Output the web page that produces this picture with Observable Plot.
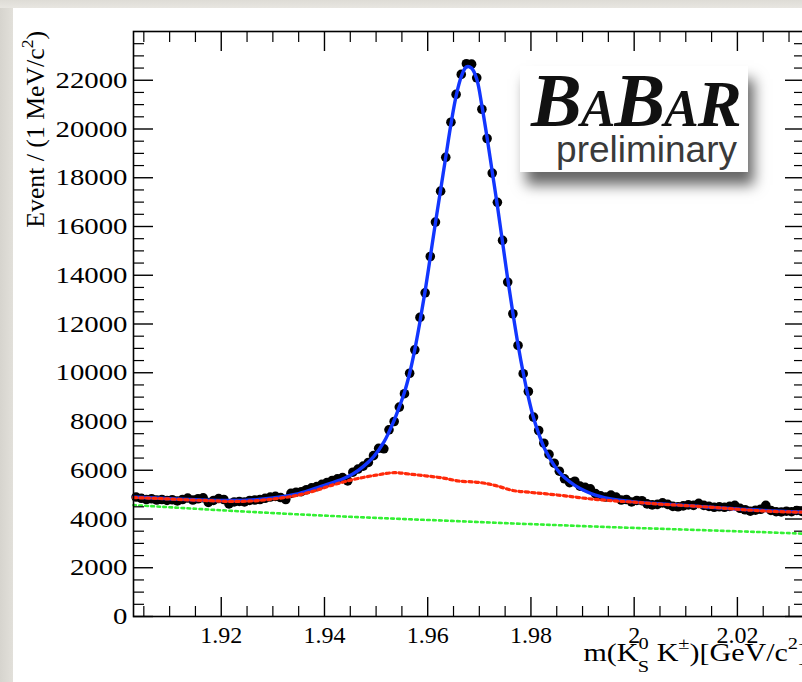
<!DOCTYPE html>
<html>
<head>
<meta charset="utf-8">
<script src="https://cdn.jsdelivr.net/npm/d3@7"></script>
<script src="https://cdn.jsdelivr.net/npm/@observablehq/plot@0.6"></script>
<style>
  html, body { margin: 0; padding: 0; background: #ffffff; overflow: hidden; width: 802px; height: 682px; }
  #wrap { position: relative; width: 802px; height: 682px; overflow: hidden; }
  #edgeL { position: absolute; left: 0; top: 0; width: 13px; height: 682px; background: linear-gradient(to right, #d6d4ce, #e2e0da); }
  #edgeT { position: absolute; left: 0; top: 0; width: 802px; height: 8px; background: linear-gradient(#dedcd6, #e8e6e1); }
  #chart { position: absolute; left: 0; top: 0; }
  #logo { position: absolute; left: 520px; top: 66px; width: 228px; height: 106px; background: #fff;
          box-shadow: 6px 13px 13px rgba(0,0,0,0.6); }
  #babar { position: absolute; left: 11px; top: -9px; font-family: "Liberation Serif", serif; font-weight: bold; font-style: italic; color: #111; white-space: nowrap; letter-spacing: -1px; }
  #prelim { position: absolute; right: 11px; top: 63px; font-family: "Liberation Sans", sans-serif; font-size: 37px; color: #3a3a3a; white-space: nowrap; }
</style>
</head>
<body>
<div id="wrap">
  <div id="edgeL"></div>
  <div id="edgeT"></div>
  <div id="chart"></div>
  <div id="logo">
    <div id="babar"><span style="font-size:76px">B</span><span style="font-size:52px">A</span><span style="font-size:76px">B</span><span style="font-size:52px">A</span><span style="font-size:66px">R</span></div>
    <div id="prelim">preliminary</div>
  </div>
</div>
<script>
// ---------- data ----------
// histogram: 1 MeV bins starting at 1.903 GeV/c^2
const binLow = 1.903;
const binWidth = 0.001;
const counts = [
  4900, 4850, 4800, 4830, 4780, 4800, 4760, 4790, 4740, 4800,
  4860, 4780, 4830, 4870, 4680, 4760, 4840, 4800, 4620, 4700,
  4720, 4700, 4760, 4780, 4800, 4850, 4900, 4930, 4880, 4800,
  5050, 5100, 5120, 5200, 5280, 5330, 5420, 5500, 5580, 5650,
  5700, 5560, 5920, 6050, 6170, 6320, 6600, 6900, 6880, 7660,
  8000, 8590, 9140, 9980, 10940, 12270, 13280, 14770, 16180, 17450,
  18840, 20280, 21420, 22240, 22680, 22660, 22100, 20810, 19610, 18190,
  16990, 15430, 13720, 12420, 11120, 9960, 9230, 8180, 7630, 7110,
  6650, 6290, 5960, 5650, 5490, 5550, 5350, 5300, 5240, 5040,
  4950, 4900, 4980, 4900, 4780, 4800, 4700, 4760, 4750, 4620,
  4580, 4600, 4660, 4600, 4520, 4500, 4540, 4580, 4560, 4640,
  4560, 4520, 4480, 4500, 4480, 4520, 4560, 4440, 4380, 4320,
  4360, 4400, 4560, 4350, 4300, 4290, 4320, 4300, 4350, 4310
];

// total fit (blue)
const fitMass = [1.903, 1.910, 1.915, 1.920, 1.925, 1.930, 1.935, 1.9395, 1.9435, 1.9455, 1.9475, 1.9495, 1.9515, 1.9535, 1.9545,
  1.9555, 1.9565, 1.9575, 1.9585, 1.9595, 1.9605, 1.9615, 1.9625, 1.9635, 1.9645, 1.9655, 1.9665, 1.9675, 1.9685, 1.9695,
  1.9705, 1.9715, 1.9725, 1.9735, 1.9745, 1.9755, 1.9765, 1.9775, 1.9785, 1.9795, 1.9805, 1.9815, 1.9825, 1.9835, 1.9845,
  1.9855, 1.9865, 1.9885, 1.9905, 1.9925, 1.9955, 2.0005, 2.0105, 2.0205, 2.033];
const fitVal = [4900, 4830, 4790, 4760, 4770, 4860, 5040, 5350, 5640, 5850, 6150, 6550, 7150, 8050, 8600,
  9200, 9980, 10950, 12100, 13350, 14750, 16150, 17500, 18850, 20200, 21350, 22150, 22550, 22500, 22050,
  20950, 19650, 18250, 16850, 15350, 13850, 12450, 11150, 10000, 9000, 8150, 7500, 6950, 6550, 6200,
  5920, 5700, 5380, 5150, 4980, 4820, 4690, 4550, 4400, 4285];

// background incl. peaking component (red dashed)
const bkgMass = [1.903, 1.908, 1.913, 1.918, 1.922, 1.926, 1.930, 1.934, 1.938, 1.942, 1.946, 1.950, 1.9535, 1.957, 1.960,
  1.963, 1.966, 1.970, 1.973, 1.9765, 1.980, 1.983, 1.987, 1.9913, 1.995, 2.000, 2.005, 2.010, 2.015, 2.020, 2.025, 2.030, 2.033];
const bkgVal = [4880, 4840, 4790, 4750, 4720, 4740, 4820, 4940, 5150, 5420, 5640, 5800, 5900, 5830, 5760,
  5680, 5560, 5500, 5380, 5170, 5090, 5030, 4940, 4830, 4760, 4690, 4610, 4550, 4480, 4400, 4330, 4290, 4280];

// combinatorial background (green dotted)
const combMass = [1.903, 1.915, 1.925, 1.935, 1.945, 1.955, 1.965, 1.975, 1.985, 1.995, 2.005, 2.015, 2.025, 2.033];
const combVal = [4570, 4420, 4300, 4190, 4090, 4000, 3920, 3830, 3750, 3670, 3600, 3530, 3460, 3395];

// axis ticks
const xMajorTicks = [1.92, 1.94, 1.96, 1.98, 2.00, 2.02];
const xMinorTicks = [1.905, 1.91, 1.915, 1.925, 1.93, 1.935, 1.945, 1.95, 1.955, 1.965, 1.97, 1.975, 1.985, 1.99, 1.995, 2.005, 2.01, 2.015, 2.025, 2.03];
const xTickLabels = ["1.92", "1.94", "1.96", "1.98", "2", "2.02"];
const yMajorTicks = [0, 2000, 4000, 6000, 8000, 10000, 12000, 14000, 16000, 18000, 20000, 22000];
const yMinorTicks = [500, 1000, 1500, 2500, 3000, 3500, 4500, 5000, 5500, 6500, 7000, 7500, 8500, 9000, 9500,
  10500, 11000, 11500, 12500, 13000, 13500, 14500, 15000, 15500, 16500, 17000, 17500, 18500, 19000, 19500,
  20500, 21000, 21500, 22500, 23000, 23500];

// ---------- build tables ----------
const hist = counts.map((c, i) => ({m: binLow + (i + 0.5) * binWidth, n: c}));
const fit = fitMass.map((m, i) => ({m, n: fitVal[i]}));
const bkg = bkgMass.map((m, i) => ({m, n: bkgVal[i]}));
const comb = combMass.map((m, i) => ({m, n: combVal[i]}));
const xLab = xMajorTicks.map((v, i) => ({v, t: xTickLabels[i]}));

const font = "Liberation Serif";
const tick = (k, anchor, ticks, size, sw) =>
  (k === "x" ? Plot.axisX : Plot.axisY)(ticks, {anchor, tickSize: -size, fill: "none", stroke: "black", strokeWidth: sw, label: null});

const plot = Plot.plot({
  width: 810,
  height: 682,
  marginLeft: 133,
  marginRight: 6,
  marginTop: 31,
  marginBottom: 66,
  x: {domain: [1.903, 2.033]},
  y: {domain: [0, 24000]},
  style: {background: "transparent", fontFamily: font, overflow: "visible", maxWidth: "none"},
  marks: [
    Plot.dot(hist, {x: "m", y: "n", r: 4.8, fill: "black", stroke: "none"}),
    Plot.line(fit, {x: "m", y: "n", stroke: "#1236ff", strokeWidth: 3.4, curve: "catmull-rom"}),
    Plot.line(bkg, {x: "m", y: "n", stroke: "#ff2a0a", strokeWidth: 3.2, strokeDasharray: "3.2,3.2", curve: "catmull-rom"}),
    Plot.line(comb, {x: "m", y: "n", stroke: "#33f033", strokeWidth: 2.6, strokeDasharray: "2.6,3.4", curve: "catmull-rom"}),
    Plot.frame({stroke: "black", strokeWidth: 1.6}),
    tick("x", "bottom", xMajorTicks, 19, 1.4),
    tick("x", "bottom", xMinorTicks, 10, 1.2),
    tick("x", "top", xMajorTicks, 19, 1.4),
    tick("x", "top", xMinorTicks, 10, 1.2),
    tick("y", "left", yMajorTicks, 20, 1.4),
    tick("y", "left", yMinorTicks, 11, 1.2),
    tick("y", "right", yMajorTicks, 20, 1.4),
    tick("y", "right", yMinorTicks, 11, 1.2),
    Plot.text(xLab, {x: "v", text: "t", frameAnchor: "bottom", dy: 26, fontSize: 24, fill: "black", fontFamily: font}),
    Plot.text(yMajorTicks, {y: d => d, text: d => String(d), frameAnchor: "left", dx: -6, textAnchor: "end", fontSize: 24, fill: "black", fontFamily: font})
  ]
});
document.getElementById("chart").appendChild(plot);

// ---------- ROOT-like wide y tick labels: stretch horizontally about their right end ----------
const svg = d3.select(plot);
const textGroups = svg.selectAll('g[aria-label="text"]').nodes();
d3.select(textGroups[textGroups.length - 1]).selectAll("text").each(function () {
  const bb = this.getBBox();
  const ax = bb.x + bb.width;
  const prev = this.getAttribute("transform") || "";
  this.setAttribute("transform", `${prev} translate(${ax},0) scale(1.2,1) translate(${-ax},0)`);
});

// ---------- axis titles (ROOT style) ----------
const yt = svg.append("text")
  .attr("transform", "translate(44,31) rotate(-90) scale(1.03,1)")
  .attr("text-anchor", "end")
  .style("font-family", font).style("font-size", "25px").attr("fill", "black");
yt.append("tspan").text("Event / (1 MeV/c");
yt.append("tspan").attr("font-size", "17px").attr("dy", "-11").text("2");
yt.append("tspan").attr("dy", "11").text(")");

const xt = svg.append("text")
  .attr("transform", "translate(808,661) scale(1.2,1)")
  .attr("text-anchor", "end")
  .style("font-family", font).style("font-size", "25px").attr("fill", "black");
xt.append("tspan").text("m(K");
xt.append("tspan").attr("font-size", "17px").attr("dy", "-12").text("0");
xt.append("tspan").attr("font-size", "17px").attr("dx", "-9").attr("dy", "23").text("S");
xt.append("tspan").attr("dy", "-11").text(" K");
xt.append("tspan").attr("font-size", "17px").attr("dy", "-12").text("±");
xt.append("tspan").attr("dy", "12").text(")[GeV/c");
xt.append("tspan").attr("font-size", "17px").attr("dy", "-12").text("2");
xt.append("tspan").attr("dy", "12").text("]");
</script>
</body>
</html>
